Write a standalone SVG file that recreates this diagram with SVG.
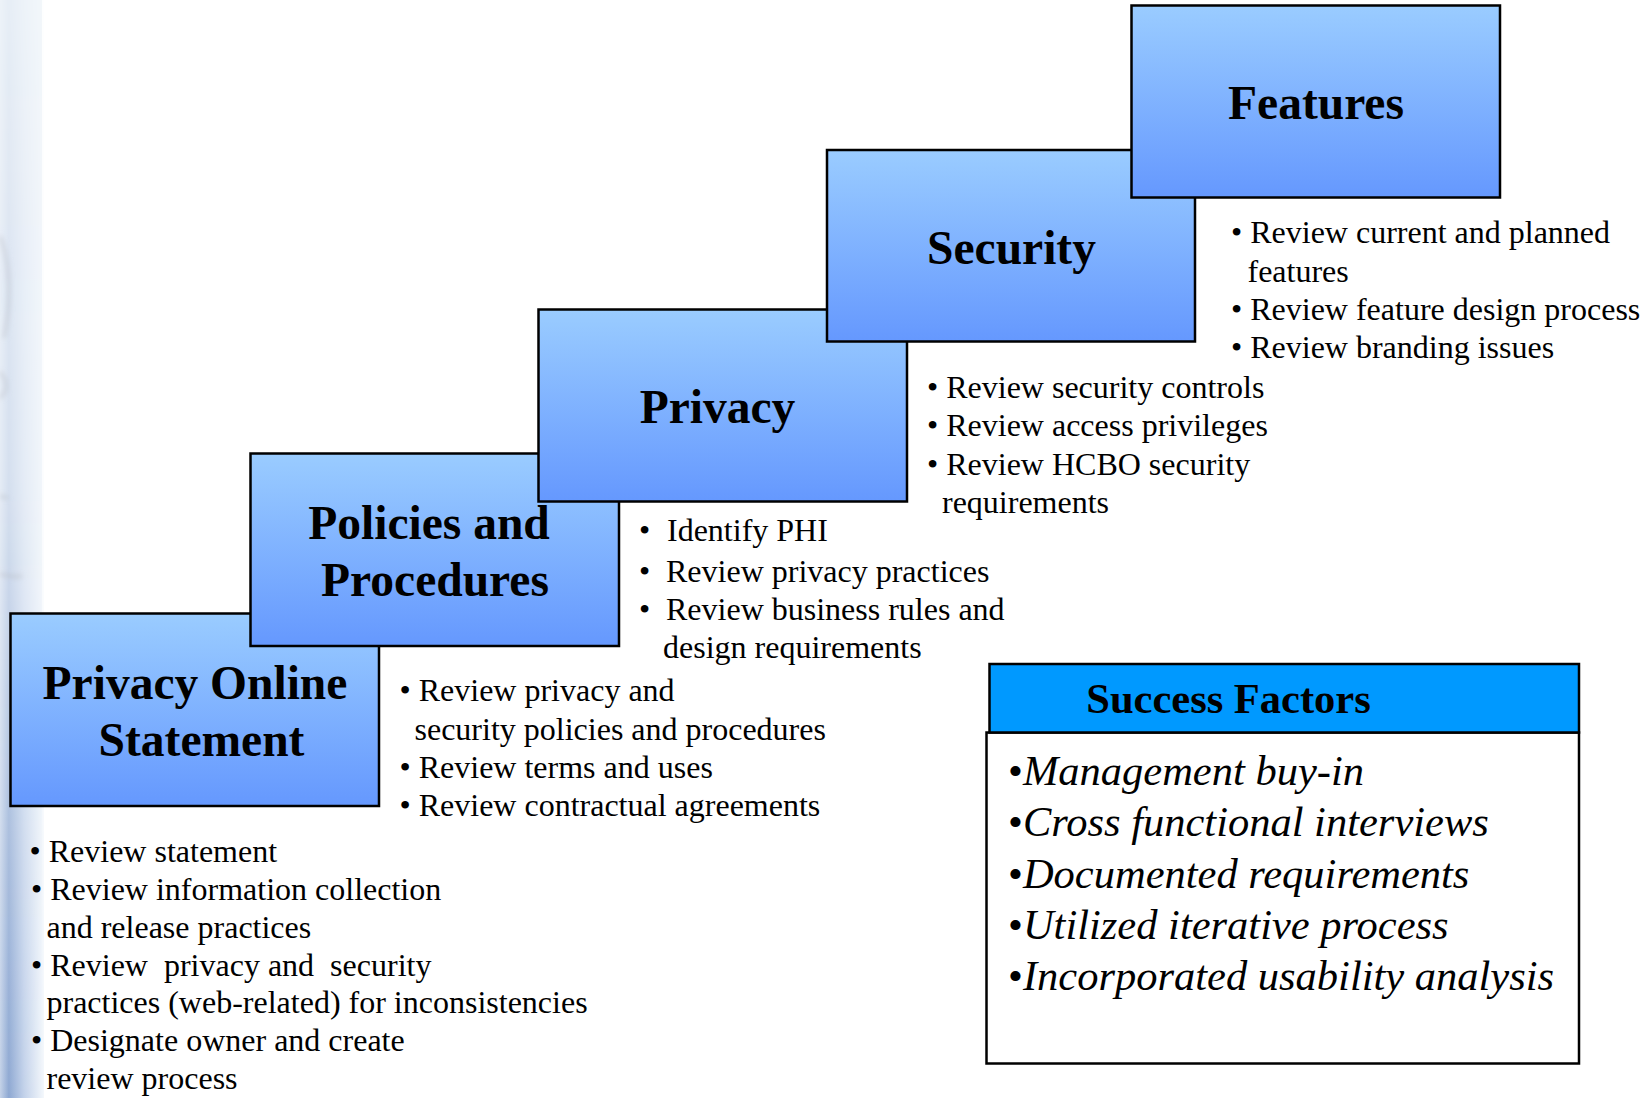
<svg xmlns="http://www.w3.org/2000/svg" width="1650" height="1098" viewBox="0 0 1650 1098">
  <defs>
    <linearGradient id="stepFill" x1="0" y1="0" x2="0" y2="1">
      <stop offset="0" stop-color="#9ACCFF"/>
      <stop offset="1" stop-color="#6598FE"/>
    </linearGradient>
    <linearGradient id="edgeH" x1="0" y1="0" x2="1" y2="0">
      <stop offset="0" stop-color="#c4d2e8"/>
      <stop offset="0.2" stop-color="#8ea8d2"/>
      <stop offset="0.55" stop-color="#c3d2ea"/>
      <stop offset="1" stop-color="#f4f8fc"/>
    </linearGradient>
    <linearGradient id="edgeV" x1="0" y1="0" x2="0" y2="1">
      <stop offset="0" stop-color="#fff" stop-opacity="0.12"/>
      <stop offset="0.45" stop-color="#fff" stop-opacity="0.3"/>
      <stop offset="0.75" stop-color="#fff" stop-opacity="0.7"/>
      <stop offset="1" stop-color="#fff" stop-opacity="1"/>
    </linearGradient>
    <mask id="edgeMask">
      <rect x="0" y="0" width="44" height="1098" fill="url(#edgeV)"/>
    </mask>
    <filter id="soft" x="-50%" y="-50%" width="200%" height="200%">
      <feGaussianBlur stdDeviation="2.5"/>
    </filter>
    <style>
      .step { fill: url(#stepFill); stroke: #000; stroke-width: 2.5; }
      .title { font-family: "Liberation Serif", "Times New Roman", serif; font-weight: bold; font-size: 47.5px; fill: #000; text-anchor: middle; }
      .item { font-family: "Liberation Serif", "Times New Roman", serif; font-size: 32px; fill: #000; white-space: pre; }
      .head { font-family: "Liberation Serif", "Times New Roman", serif; font-weight: bold; font-size: 42.5px; fill: #000; text-anchor: middle; }
      .factor { font-family: "Liberation Serif", "Times New Roman", serif; font-style: italic; font-size: 42.5px; fill: #000; }
      .dot { font-style: normal; }
    </style>
  </defs>

  <!-- page background and the tinted left edge -->
  <rect x="0" y="0" width="1650" height="1098" fill="#fff"/>
  <rect x="0" y="0" width="42" height="1098" fill="#f3f7fb"/>
  <rect x="0" y="0" width="44" height="1098" fill="url(#edgeH)" mask="url(#edgeMask)"/>
  <g fill="none" stroke="#b8bcc4" stroke-opacity="0.55" stroke-width="3" filter="url(#soft)">
    <path d="M0 236 C 10 262, 12 300, 4 338"/>
    <path d="M0 372 C 8 380, 8 392, 0 398"/>
    <path d="M0 496 L 8 498"/>
    <path d="M0 574 C 8 576, 16 578, 22 576"/>
  </g>

  <!-- staircase of review steps, each drawn over the previous one -->
  <g id="step-privacy-online-statement">
    <rect class="step" x="10.5" y="613.5" width="368.5" height="192.5"/>
    <text class="title" x="195" y="699">Privacy Online</text>
    <text class="title" x="201.5" y="756">Statement</text>
  </g>
  <g id="step-policies-procedures">
    <rect class="step" x="250.5" y="453.5" width="368.5" height="192.5"/>
    <text class="title" x="429" y="538.5">Policies and</text>
    <text class="title" x="435" y="596">Procedures</text>
  </g>
  <g id="step-privacy">
    <rect class="step" x="538.5" y="309.5" width="368.5" height="192"/>
    <text class="title" x="717.5" y="423">Privacy</text>
  </g>
  <g id="step-security">
    <rect class="step" x="827" y="150" width="368" height="191.5"/>
    <text class="title" x="1011.5" y="263.5">Security</text>
  </g>
  <g id="step-features">
    <rect class="step" x="1131.5" y="5.5" width="368.5" height="192"/>
    <text class="title" x="1316" y="119">Features</text>
  </g>

  <!-- review activities listed beside each step -->
  <g id="list-privacy-online-statement" class="item">
    <text x="29.5" y="862">• Review statement</text>
    <text x="31" y="900">• Review information collection</text>
    <text x="46.5" y="937.5">and release practices</text>
    <text x="31" y="975.5" xml:space="preserve">• Review  privacy and  security</text>
    <text x="46.5" y="1013">practices (web-related) for inconsistencies</text>
    <text x="31" y="1051">• Designate owner and create</text>
    <text x="46.5" y="1088.5">review process</text>
  </g>
  <g id="list-policies-procedures" class="item">
    <text x="399.5" y="701">• Review privacy and</text>
    <text x="414.5" y="740">security policies and procedures</text>
    <text x="399.5" y="778">• Review terms and uses</text>
    <text x="399.5" y="816">• Review contractual agreements</text>
  </g>
  <g id="list-privacy" class="item">
    <text y="541"><tspan x="639">•</tspan><tspan x="667">Identify PHI</tspan></text>
    <text y="581.5"><tspan x="639">•</tspan><tspan x="666">Review privacy practices</tspan></text>
    <text y="620"><tspan x="639">•</tspan><tspan x="666">Review business rules and</tspan></text>
    <text x="663" y="658">design requirements</text>
  </g>
  <g id="list-security" class="item">
    <text x="927" y="397.5">• Review security controls</text>
    <text x="927" y="436">• Review access privileges</text>
    <text x="927" y="474.5">• Review HCBO security</text>
    <text x="942" y="512.5">requirements</text>
  </g>
  <g id="list-features" class="item">
    <text x="1231" y="243">• Review current and planned</text>
    <text x="1247.5" y="281.5">features</text>
    <text x="1231" y="320">• Review feature design process</text>
    <text x="1231" y="358">• Review branding issues</text>
  </g>

  <!-- success factors panel -->
  <g id="success-factors">
    <rect x="986.5" y="732.5" width="592.5" height="331" fill="#fff" stroke="#000" stroke-width="2.5"/>
    <rect x="989.5" y="664" width="589.5" height="68.5" fill="#0099FF" stroke="#000" stroke-width="2.5"/>
    <text class="head" x="1228.5" y="713">Success Factors</text>
    <text class="factor" x="1008" y="785"><tspan class="dot">•</tspan>Management buy-in</text>
    <text class="factor" x="1008" y="836.3"><tspan class="dot">•</tspan>Cross functional interviews</text>
    <text class="factor" x="1008" y="887.6"><tspan class="dot">•</tspan>Documented requirements</text>
    <text class="factor" x="1008" y="938.9"><tspan class="dot">•</tspan>Utilized iterative process</text>
    <text class="factor" x="1008" y="990.2"><tspan class="dot">•</tspan>Incorporated usability analysis</text>
  </g>
</svg>
